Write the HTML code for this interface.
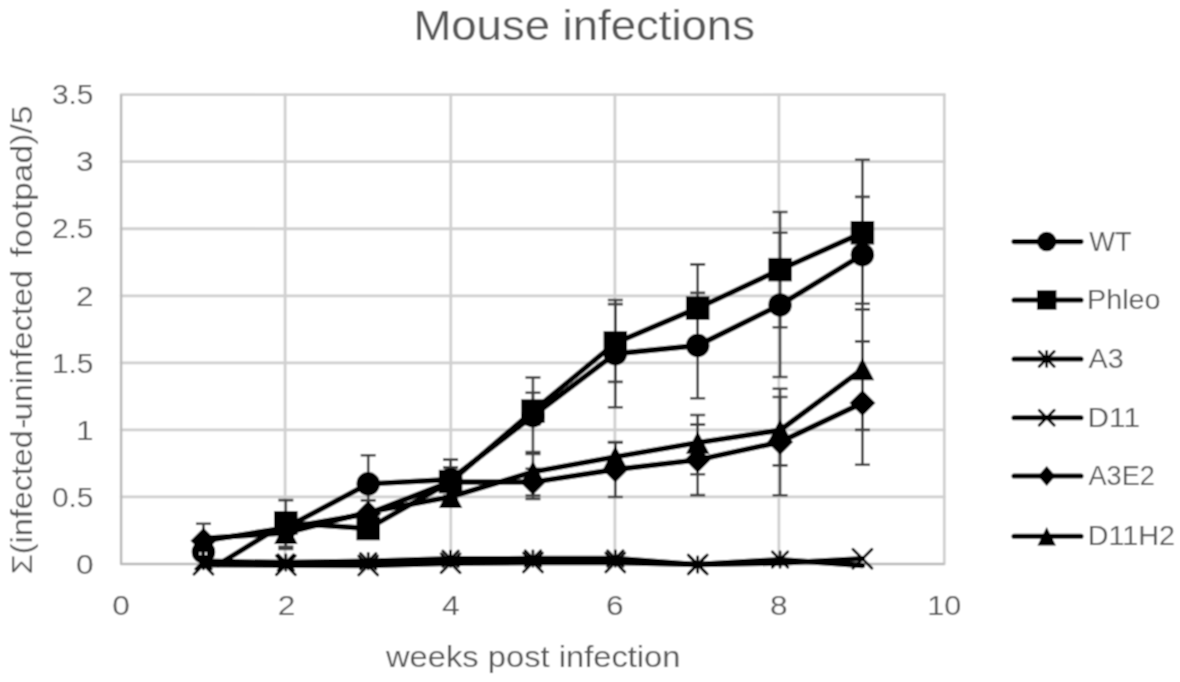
<!DOCTYPE html>
<html lang="en"><head><meta charset="utf-8"><title>Mouse infections</title>
<style>html,body{margin:0;padding:0;background:#fff}body{width:1180px;height:682px;overflow:hidden}svg{display:block}</style>
</head><body>
<svg width="1180" height="682" viewBox="0 0 1180 682">
<defs><filter id="soft" x="0" y="0" width="1180" height="682" filterUnits="userSpaceOnUse"><feConvolveMatrix order="3" kernelMatrix="1 2 1 2 4 2 1 2 1" divisor="16" edgeMode="duplicate" preserveAlpha="true"/></filter></defs>
<g filter="url(#soft)">
<rect width="1180" height="682" fill="#fff"/>
<g stroke="#d0d0d0" stroke-width="2.8" fill="none" stroke-linecap="round"><path d="M121.1 496.87H944.3"/><path d="M121.1 429.84H944.3"/><path d="M121.1 362.81H944.3"/><path d="M121.1 295.78H944.3"/><path d="M121.1 228.75H944.3"/><path d="M121.1 161.72H944.3"/><path d="M121.1 94.69H944.3"/><path d="M285.1 94.69V563.9"/><path d="M450.8 94.69V563.9"/><path d="M614.9 94.69V563.9"/><path d="M778.9 94.69V563.9"/><path d="M944.3 94.69V563.9"/></g>
<path d="M121.1 94.69V563.9H944.3" stroke="#bababa" stroke-width="2.5" fill="none" stroke-linejoin="round"/>
<g><path d="M368.21 455.18V512.56M360.71 455.18h15M360.71 512.56h15" stroke="#404040" stroke-width="2.6" fill="none"/>
<path d="M450.58 459.6V499.28M443.08 459.6h15M443.08 499.28h15" stroke="#404040" stroke-width="2.6" fill="none"/>
<path d="M532.95 377.56V453.97M525.45 377.56h15M525.45 453.97h15" stroke="#404040" stroke-width="2.6" fill="none"/>
<path d="M615.32 300.07V407.32M607.82 300.07h15M607.82 407.32h15" stroke="#404040" stroke-width="2.6" fill="none"/>
<path d="M697.69 292.83V398.2M690.19 292.83h15M690.19 398.2h15" stroke="#404040" stroke-width="2.6" fill="none"/>
<path d="M780.06 232.77V377.02M772.56 232.77h15M772.56 377.02h15" stroke="#404040" stroke-width="2.6" fill="none"/>
<path d="M862.43 196.84V309.32M854.93 196.84h15M854.93 309.32h15" stroke="#404040" stroke-width="2.6" fill="none"/>
<path d="M285.84 500.09V546.74M278.34 500.09h15M278.34 546.74h15" stroke="#404040" stroke-width="2.6" fill="none"/>
<path d="M450.58 467.38V495.8M443.08 467.38h15M443.08 495.8h15" stroke="#404040" stroke-width="2.6" fill="none"/>
<path d="M532.95 392.71V424.48M525.45 392.71h15M525.45 424.48h15" stroke="#404040" stroke-width="2.6" fill="none"/>
<path d="M615.32 304.09V381.85M607.82 304.09h15M607.82 381.85h15" stroke="#404040" stroke-width="2.6" fill="none"/>
<path d="M697.69 264.41V351.82M690.19 264.41h15M690.19 351.82h15" stroke="#404040" stroke-width="2.6" fill="none"/>
<path d="M780.06 211.99V327.28M772.56 211.99h15M772.56 327.28h15" stroke="#404040" stroke-width="2.6" fill="none"/>
<path d="M862.43 159.71V303.82M854.93 159.71h15M854.93 303.82h15" stroke="#404040" stroke-width="2.6" fill="none"/>


<path d="M203.47 523.68V558.0M195.97 523.68h15M195.97 558.0h15" stroke="#404040" stroke-width="2.6" fill="none"/>
<path d="M532.95 468.72V495.53M525.45 468.72h15M525.45 495.53h15" stroke="#404040" stroke-width="2.6" fill="none"/>
<path d="M615.32 442.04V497.0M607.82 442.04h15M607.82 497.0h15" stroke="#404040" stroke-width="2.6" fill="none"/>
<path d="M697.69 424.61V495.13M690.19 424.61h15M690.19 495.13h15" stroke="#404040" stroke-width="2.6" fill="none"/>
<path d="M780.06 388.82V495.26M772.56 388.82h15M772.56 495.26h15" stroke="#404040" stroke-width="2.6" fill="none"/>
<path d="M862.43 341.36V464.7M854.93 341.36h15M854.93 464.7h15" stroke="#404040" stroke-width="2.6" fill="none"/>
<path d="M285.84 515.64V548.89M278.34 515.64h15M278.34 548.89h15" stroke="#404040" stroke-width="2.6" fill="none"/>
<path d="M368.21 500.36V524.22M360.71 500.36h15M360.71 524.22h15" stroke="#404040" stroke-width="2.6" fill="none"/>
<path d="M532.95 451.96V498.88M525.45 451.96h15M525.45 498.88h15" stroke="#404040" stroke-width="2.6" fill="none"/>
<path d="M615.32 442.44V471.4M607.82 442.44h15M607.82 471.4h15" stroke="#404040" stroke-width="2.6" fill="none"/>
<path d="M697.69 414.96V474.21M690.19 414.96h15M690.19 474.21h15" stroke="#404040" stroke-width="2.6" fill="none"/>
<path d="M780.06 397.0V465.37M772.56 397.0h15M772.56 465.37h15" stroke="#404040" stroke-width="2.6" fill="none"/>
<path d="M862.43 309.32V429.84M854.93 309.32h15M854.93 429.84h15" stroke="#404040" stroke-width="2.6" fill="none"/></g>
<g><polyline points="285.84,527.7 368.21,483.87 450.58,479.44 532.95,415.76 615.32,353.69 697.69,345.52 780.06,304.9 862.43,254.76" fill="none" stroke="#000" stroke-width="5.4" stroke-linejoin="round" stroke-linecap="round"/><circle cx="203.47" cy="551.97" r="11.75"/>
<circle cx="285.84" cy="527.7" r="11.75"/>
<circle cx="368.21" cy="483.87" r="11.75"/>
<circle cx="450.58" cy="479.44" r="11.75"/>
<circle cx="532.95" cy="415.76" r="11.75"/>
<circle cx="615.32" cy="353.69" r="11.75"/>
<circle cx="697.69" cy="345.52" r="11.75"/>
<circle cx="780.06" cy="304.9" r="11.75"/>
<circle cx="862.43" cy="254.76" r="11.75"/></g>
<g><polyline points="218.3,564.57 285.84,522.88 368.21,528.51 450.58,481.59 532.95,411.07 615.32,342.97 697.69,308.11 780.06,269.64 862.43,232.77" fill="none" stroke="#000" stroke-width="5.4" stroke-linejoin="round" stroke-linecap="round"/><rect x="274.09" y="511.13" width="23.5" height="23.5"/>
<rect x="356.46" y="516.76" width="23.5" height="23.5"/>
<rect x="438.83" y="469.84" width="23.5" height="23.5"/>
<rect x="521.20" y="399.32" width="23.5" height="23.5"/>
<rect x="603.57" y="331.22" width="23.5" height="23.5"/>
<rect x="685.94" y="296.36" width="23.5" height="23.5"/>
<rect x="768.31" y="257.89" width="23.5" height="23.5"/>
<rect x="850.68" y="221.02" width="23.5" height="23.5"/></g>
<g><polyline points="203.47,561.22 285.84,562.56 368.21,561.22 450.58,558.81 532.95,558.54 615.32,558.54 697.69,564.57 780.06,559.61 862.43,565.51" fill="none" stroke="#000" stroke-width="5.4" stroke-linejoin="round" stroke-linecap="round"/><path d="M195.72 553.47L211.22 568.97M195.72 568.97L211.22 553.47M203.47 553.47V568.97" stroke="#000" stroke-width="2.8" stroke-linecap="round" fill="none"/>
<path d="M278.09 554.81L293.59 570.31M278.09 570.31L293.59 554.81M285.84 554.81V570.31" stroke="#000" stroke-width="2.8" stroke-linecap="round" fill="none"/>
<path d="M360.46 553.47L375.96 568.97M360.46 568.97L375.96 553.47M368.21 553.47V568.97" stroke="#000" stroke-width="2.8" stroke-linecap="round" fill="none"/>
<path d="M442.83 551.06L458.33 566.56M442.83 566.56L458.33 551.06M450.58 551.06V566.56" stroke="#000" stroke-width="2.8" stroke-linecap="round" fill="none"/>
<path d="M525.20 550.79L540.70 566.29M525.20 566.29L540.70 550.79M532.95 550.79V566.29" stroke="#000" stroke-width="2.8" stroke-linecap="round" fill="none"/>
<path d="M607.57 550.79L623.07 566.29M607.57 566.29L623.07 550.79M615.32 550.79V566.29" stroke="#000" stroke-width="2.8" stroke-linecap="round" fill="none"/>
<path d="M689.94 556.82L705.44 572.32M689.94 572.32L705.44 556.82M697.69 556.82V572.32" stroke="#000" stroke-width="2.8" stroke-linecap="round" fill="none"/>
<path d="M772.31 551.86L787.81 567.36M772.31 567.36L787.81 551.86M780.06 551.86V567.36" stroke="#000" stroke-width="2.8" stroke-linecap="round" fill="none"/></g>
<g><polyline points="203.47,564.7 285.84,565.24 368.21,565.51 450.58,563.36 532.95,562.56 615.32,562.56 697.69,564.57 780.06,563.1 862.43,558.67" fill="none" stroke="#000" stroke-width="5.4" stroke-linejoin="round" stroke-linecap="round"/><path d="M193.97 555.20L212.97 574.20M193.97 574.20L212.97 555.20" stroke="#000" stroke-width="2.8" stroke-linecap="round" fill="none"/>
<path d="M276.34 555.74L295.34 574.74M276.34 574.74L295.34 555.74" stroke="#000" stroke-width="2.8" stroke-linecap="round" fill="none"/>
<path d="M358.71 556.01L377.71 575.01M358.71 575.01L377.71 556.01" stroke="#000" stroke-width="2.8" stroke-linecap="round" fill="none"/>
<path d="M441.08 553.86L460.08 572.86M441.08 572.86L460.08 553.86" stroke="#000" stroke-width="2.8" stroke-linecap="round" fill="none"/>
<path d="M523.45 553.06L542.45 572.06M523.45 572.06L542.45 553.06" stroke="#000" stroke-width="2.8" stroke-linecap="round" fill="none"/>
<path d="M605.82 553.06L624.82 572.06M605.82 572.06L624.82 553.06" stroke="#000" stroke-width="2.8" stroke-linecap="round" fill="none"/>
<path d="M688.19 555.07L707.19 574.07M688.19 574.07L707.19 555.07" stroke="#000" stroke-width="2.8" stroke-linecap="round" fill="none"/>
<path d="M852.93 549.17L871.93 568.17M852.93 568.17L871.93 549.17" stroke="#000" stroke-width="2.8" stroke-linecap="round" fill="none"/></g>
<g><polyline points="203.47,540.84 285.84,527.97 368.21,513.63 450.58,481.86 532.95,482.12 615.32,469.52 697.69,459.87 780.06,442.04 862.43,403.03" fill="none" stroke="#000" stroke-width="5.4" stroke-linejoin="round" stroke-linecap="round"/><path d="M203.47 527.84L216.47 540.84L203.47 553.84L190.47 540.84Z"/>
<path d="M285.84 514.97L298.84 527.97L285.84 540.97L272.84 527.97Z"/>
<path d="M368.21 500.63L381.21 513.63L368.21 526.63L355.21 513.63Z"/>
<path d="M450.58 468.86L463.58 481.86L450.58 494.86L437.58 481.86Z"/>
<path d="M532.95 469.12L545.95 482.12L532.95 495.12L519.95 482.12Z"/>
<path d="M615.32 456.52L628.32 469.52L615.32 482.52L602.32 469.52Z"/>
<path d="M697.69 446.87L710.69 459.87L697.69 472.87L684.69 459.87Z"/>
<path d="M780.06 429.04L793.06 442.04L780.06 455.04L767.06 442.04Z"/>
<path d="M862.43 390.03L875.43 403.03L862.43 416.03L849.43 403.03Z"/></g>
<g><polyline points="203.47,538.43 285.84,532.8 368.21,512.15 450.58,496.87 532.95,471.93 615.32,456.92 697.69,442.58 780.06,430.24 862.43,369.11" fill="none" stroke="#000" stroke-width="5.4" stroke-linejoin="round" stroke-linecap="round"/><path d="M203.47 527.18L215.22 549.68L191.72 549.68Z"/>
<path d="M285.84 521.55L297.59 544.05L274.09 544.05Z"/>
<path d="M368.21 500.90L379.96 523.40L356.46 523.40Z"/>
<path d="M450.58 485.62L462.33 508.12L438.83 508.12Z"/>
<path d="M532.95 460.68L544.70 483.18L521.20 483.18Z"/>
<path d="M615.32 445.67L627.07 468.17L603.57 468.17Z"/>
<path d="M697.69 431.33L709.44 453.83L685.94 453.83Z"/>
<path d="M780.06 418.99L791.81 441.49L768.31 441.49Z"/>
<path d="M862.43 357.86L874.18 380.36L850.68 380.36Z"/></g>
<rect x="199.2" y="552.2" width="2.2" height="2.8" fill="#ddd"/><rect x="204.8" y="552.2" width="2.2" height="2.8" fill="#ddd"/>
<path d="M1014 241.6H1081" stroke="#000" stroke-width="5.1" stroke-linecap="round"/><circle cx="1046.7" cy="241.6" r="9.75"/><path d="M1014 300H1081" stroke="#000" stroke-width="5.1" stroke-linecap="round"/><rect x="1036.95" y="290.25" width="19.5" height="19.5"/><path d="M1014 359H1081" stroke="#000" stroke-width="5.1" stroke-linecap="round"/><path d="M1039.20 351.50L1054.20 366.50M1039.20 366.50L1054.20 351.50M1046.7 351.50V366.50" stroke="#000" stroke-width="2.8" stroke-linecap="round" fill="none"/><path d="M1014 417.8H1081" stroke="#000" stroke-width="5.1" stroke-linecap="round"/><path d="M1039.20 410.30L1054.20 425.30M1039.20 425.30L1054.20 410.30" stroke="#000" stroke-width="2.8" stroke-linecap="round" fill="none"/><path d="M1014 476H1081" stroke="#000" stroke-width="5.1" stroke-linecap="round"/><path d="M1046.7 466.00L1055.45 476L1046.7 486.00L1037.95 476Z"/><path d="M1014 536.3H1081" stroke="#000" stroke-width="5.1" stroke-linecap="round"/><path d="M1046.7 527.05L1055.95 545.55L1037.45 545.55Z"/>
<g fill="#595959" font-family="'Liberation Sans', sans-serif"><text x="413.4" y="39.8" font-size="41.6" text-anchor="start" textLength="341.5" lengthAdjust="spacingAndGlyphs">Mouse infections</text>
<text x="386.0" y="667.2" font-size="29.6" text-anchor="start" textLength="294.5" lengthAdjust="spacingAndGlyphs">weeks post infection</text>
<text transform="translate(32 574.2) rotate(-90)" font-size="29.6" textLength="144" lengthAdjust="spacingAndGlyphs">Σ(infected</text>
<text transform="translate(32 428.6) rotate(-90)" font-size="29.6">-</text>
<text transform="translate(32 420.4) rotate(-90)" font-size="29.6" textLength="150.4" lengthAdjust="spacingAndGlyphs">uninfected</text>
<text transform="translate(32 257) rotate(-90)" font-size="29.6" textLength="151.5" lengthAdjust="spacingAndGlyphs">footpad)/5</text>
<text x="75.9" y="573.6" font-size="27.2" text-anchor="start" textLength="17.6" lengthAdjust="spacingAndGlyphs">0</text>
<text x="51.9" y="506.6" font-size="27.2" text-anchor="start" textLength="41.6" lengthAdjust="spacingAndGlyphs">0.5</text>
<text x="75.9" y="439.5" font-size="27.2" text-anchor="start" textLength="17.6" lengthAdjust="spacingAndGlyphs">1</text>
<text x="51.9" y="372.5" font-size="27.2" text-anchor="start" textLength="41.6" lengthAdjust="spacingAndGlyphs">1.5</text>
<text x="75.9" y="305.5" font-size="27.2" text-anchor="start" textLength="17.6" lengthAdjust="spacingAndGlyphs">2</text>
<text x="51.9" y="238.4" font-size="27.2" text-anchor="start" textLength="41.6" lengthAdjust="spacingAndGlyphs">2.5</text>
<text x="75.9" y="171.4" font-size="27.2" text-anchor="start" textLength="17.6" lengthAdjust="spacingAndGlyphs">3</text>
<text x="51.9" y="104.4" font-size="27.2" text-anchor="start" textLength="41.6" lengthAdjust="spacingAndGlyphs">3.5</text>
<text x="112.3" y="615.4" font-size="27.2" text-anchor="start" textLength="17.6" lengthAdjust="spacingAndGlyphs">0</text>
<text x="277.8" y="615.4" font-size="27.2" text-anchor="start" textLength="17.6" lengthAdjust="spacingAndGlyphs">2</text>
<text x="442.0" y="615.4" font-size="27.2" text-anchor="start" textLength="17.6" lengthAdjust="spacingAndGlyphs">4</text>
<text x="606.1" y="615.4" font-size="27.2" text-anchor="start" textLength="17.6" lengthAdjust="spacingAndGlyphs">6</text>
<text x="770.1" y="615.4" font-size="27.2" text-anchor="start" textLength="17.6" lengthAdjust="spacingAndGlyphs">8</text>
<text x="927.3" y="615.4" font-size="27.2" text-anchor="start" textLength="34" lengthAdjust="spacingAndGlyphs">10</text>
<text x="1089.3" y="250.6" font-size="27.0" text-anchor="start" textLength="42.4" lengthAdjust="spacingAndGlyphs">WT</text>
<text x="1087.1" y="309.0" font-size="27.0" text-anchor="start" textLength="73.5" lengthAdjust="spacingAndGlyphs">Phleo</text>
<text x="1088.5" y="368.0" font-size="27.0" text-anchor="start" textLength="35.1" lengthAdjust="spacingAndGlyphs">A3</text>
<text x="1087.6" y="426.8" font-size="27.0" text-anchor="start" textLength="52.4" lengthAdjust="spacingAndGlyphs">D11</text>
<text x="1088.5" y="485.0" font-size="27.0" text-anchor="start" textLength="66.3" lengthAdjust="spacingAndGlyphs">A3E2</text>
<text x="1087.7" y="545.3" font-size="27.0" text-anchor="start" textLength="87.3" lengthAdjust="spacingAndGlyphs">D11H2</text></g>
</g>
</svg>
</body></html>
